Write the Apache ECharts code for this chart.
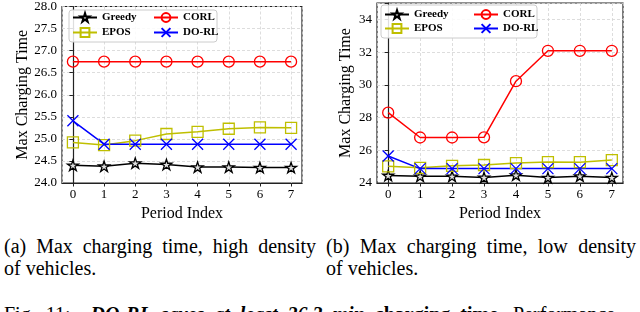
<!DOCTYPE html>
<html>
<head>
<meta charset="utf-8">
<script src="https://cdn.jsdelivr.net/npm/echarts@6/dist/echarts.min.js"></script>
<style>
  html, body { margin: 0; padding: 0; background: #fff; width: 640px; height: 312px; overflow: hidden; }
  #c { position: absolute; left: 0; top: 0; width: 640px; height: 232px; }
  .cap { position: absolute; font-family: 'Liberation Serif', 'DejaVu Serif', serif; font-size: 20px; line-height: 24px; color: #000; white-space: nowrap; }
  .just { text-align: justify; text-align-last: justify; }
</style>
</head>
<body>
<div id="c"></div>
<div class="cap just" style="left:4px;top:234px;width:312px;">(a) Max charging time, high density</div>
<div class="cap" style="left:4px;top:256px;">of vehicles.</div>
<div class="cap just" style="left:326px;top:234px;width:310px;">(b) Max charging time, low density</div>
<div class="cap" style="left:326px;top:256px;">of vehicles.</div>
<div class="cap" style="left:4px;top:302px;word-spacing:5px;">Fig. 11: &nbsp;<b><i>DO-RL saves at least 26.3 min</i></b> <b>charging time</b>. Performance</div>
<script>
// ---- data ----
const periods = [0, 1, 2, 3, 4, 5, 6, 7];
const seriesNames = ['Greedy', 'EPOS', 'CORL', 'DO-RL'];

const highGreedy = [24.40, 24.38, 24.45, 24.42, 24.36, 24.36, 24.35, 24.35];
const highEpos   = [24.92, 24.86, 24.96, 25.11, 25.16, 25.23, 25.26, 25.25];
const highCorl   = [26.75, 26.75, 26.75, 26.75, 26.75, 26.75, 26.75, 26.75];
const highDorl   = [25.41, 24.88, 24.88, 24.88, 24.88, 24.88, 24.88, 24.88];

const lowGreedy = [24.46, 24.41, 24.41, 24.34, 24.48, 24.33, 24.42, 24.33];
const lowEpos   = [25.02, 24.93, 25.05, 25.10, 25.22, 25.28, 25.27, 25.40];
const lowCorl   = [28.30, 26.78, 26.78, 26.79, 30.22, 32.08, 32.08, 32.08];
const lowDorl   = [25.65, 24.88, 24.88, 24.88, 24.88, 24.88, 24.88, 24.88];

const highTicks = [24.0, 24.5, 25.0, 25.5, 26.0, 26.5, 27.0, 27.5, 28.0];
const lowTicks = [24, 26, 28, 30, 32, 34];

// ---- styles ----
const FONT = 'Liberation Serif';
const STAR = 'path://M50,0 L61.2,34.5 L97.6,34.5 L68.2,55.9 L79.4,90.5 L50,69.1 L20.6,90.5 L31.8,55.9 L2.4,34.5 L38.8,34.5 Z';
const CROSS = 'path://M0,0 L100,100 M100,0 L0,100';
const styles = {
  'Greedy': { color: '#000000', symbol: STAR, size: 11, fill: '#dddddd' },
  'EPOS':   { color: '#bfbf00', symbol: 'rect', size: 11, fill: 'rgba(0,0,0,0)' },
  'CORL':   { color: '#ff0000', symbol: 'circle', size: 11, fill: 'rgba(0,0,0,0)' },
  'DO-RL':  { color: '#0000ff', symbol: CROSS, size: 11, fill: 'rgba(0,0,0,0)' }
};

function mkSeries(name, values, idx) {
  const s = styles[name];
  return {
    name: name,
    type: 'line',
    xAxisIndex: idx,
    yAxisIndex: idx,
    data: periods.map((p, i) => [p, values[i]]),
    symbol: s.symbol,
    symbolSize: s.size,
    symbolKeepAspect: true,
    showAllSymbol: true,
    lineStyle: { color: s.color, width: 1.5 },
    itemStyle: { color: s.fill, borderColor: s.color, borderWidth: 1.3 },
    emphasis: { disabled: true },
    animation: false,
    z: 2
  };
}

const labelText = { fontFamily: FONT, fontSize: 13, color: '#000' };
const nameText = { fontFamily: FONT, fontSize: 16, color: '#000' };

function xAxis(idx) {
  return {
    type: 'value', gridIndex: idx, min: -0.35, max: 7.35, splitNumber: 8,
    name: 'Period Index', nameLocation: 'middle', nameGap: 19,
    nameTextStyle: nameText,
    axisLine: { show: true, onZero: false, lineStyle: { color: '#222', width: 1.2 } },
    axisTick: { show: true, length: 3.5, lineStyle: { color: '#222' } },
    axisLabel: Object.assign({
      margin: 5,
      showMinLabel: false, showMaxLabel: false,
      formatter: v => (Math.abs(v - Math.round(v)) < 1e-6 && periods.indexOf(Math.round(v)) >= 0) ? String(Math.round(v)) : ''
    }, labelText),
    splitLine: { show: true, lineStyle: { color: '#d4d4d4', width: 0.8, type: [3, 2] } }
  };
}

function yAxis(idx, min, max, interval, ticks, digits, gap) {
  return {
    type: 'value', gridIndex: idx, min: min, max: max, interval: interval,
    name: 'Max Charging Time', nameLocation: 'middle', nameGap: gap,
    nameTextStyle: nameText,
    axisLine: { show: true, lineStyle: { color: '#222', width: 1.2 } },
    axisTick: { show: true, length: 3.5, lineStyle: { color: '#222' } },
    axisLabel: Object.assign({
      margin: 5,
      formatter: v => ticks.some(t => Math.abs(t - v) < 1e-6) ? v.toFixed(digits) : ''
    }, labelText),
    splitLine: { show: true, lineStyle: { color: '#d4d4d4', width: 0.8, type: [3, 2] } }
  };
}

function legend(left, top, gap, names) {
  return {
    left: left, top: top, orient: 'vertical', padding: 0, itemGap: gap,
    itemWidth: 24, itemHeight: 11,
    data: names,
    textStyle: { fontFamily: FONT, fontSize: 11, fontWeight: 'bold', color: '#000' },
    selectedMode: false,
    z: 5
  };
}

const chart = echarts.init(document.getElementById('c'), null, { renderer: 'canvas' });
chart.setOption({
  animation: false,
  backgroundColor: '#fff',
  textStyle: { fontFamily: FONT },
  grid: [
    { left: 62, top: 5, width: 240, height: 178, show: true, borderColor: '#222', borderWidth: 1.2, backgroundColor: 'transparent' },
    { left: 377, top: 3, width: 246, height: 180, show: true, borderColor: '#222', borderWidth: 1.2, backgroundColor: 'transparent' }
  ],
  xAxis: [xAxis(0), xAxis(1)],
  yAxis: [
    yAxis(0, 24, 28, 0.5, highTicks, 1, 30),
    yAxis(1, 24, 35, 2, lowTicks, 0, 23)
  ],
  legend: [
    legend(72, 12, 4, ['Greedy', 'EPOS']),
    legend(153, 12, 4, ['CORL', 'DO-RL']),
    legend(384, 9, 3, ['Greedy', 'EPOS']),
    legend(473, 9, 3, ['CORL', 'DO-RL'])
  ],
  graphic: [
    { type: 'rect', z: 3, shape: { x: 69, y: 10, width: 148, height: 32, r: 3 }, style: { fill: 'rgba(255,255,255,0.85)', stroke: '#cccccc', lineWidth: 1 } },
    { type: 'rect', z: 3, shape: { x: 381, y: 5, width: 156, height: 33, r: 3 }, style: { fill: 'rgba(255,255,255,0.85)', stroke: '#cccccc', lineWidth: 1 } }
  ],
  series: [
    mkSeries('Greedy', highGreedy, 0),
    mkSeries('EPOS', highEpos, 0),
    mkSeries('CORL', highCorl, 0),
    mkSeries('DO-RL', highDorl, 0),
    mkSeries('Greedy', lowGreedy, 1),
    mkSeries('EPOS', lowEpos, 1),
    mkSeries('CORL', lowCorl, 1),
    mkSeries('DO-RL', lowDorl, 1)
  ]
});
</script>
</body>
</html>
